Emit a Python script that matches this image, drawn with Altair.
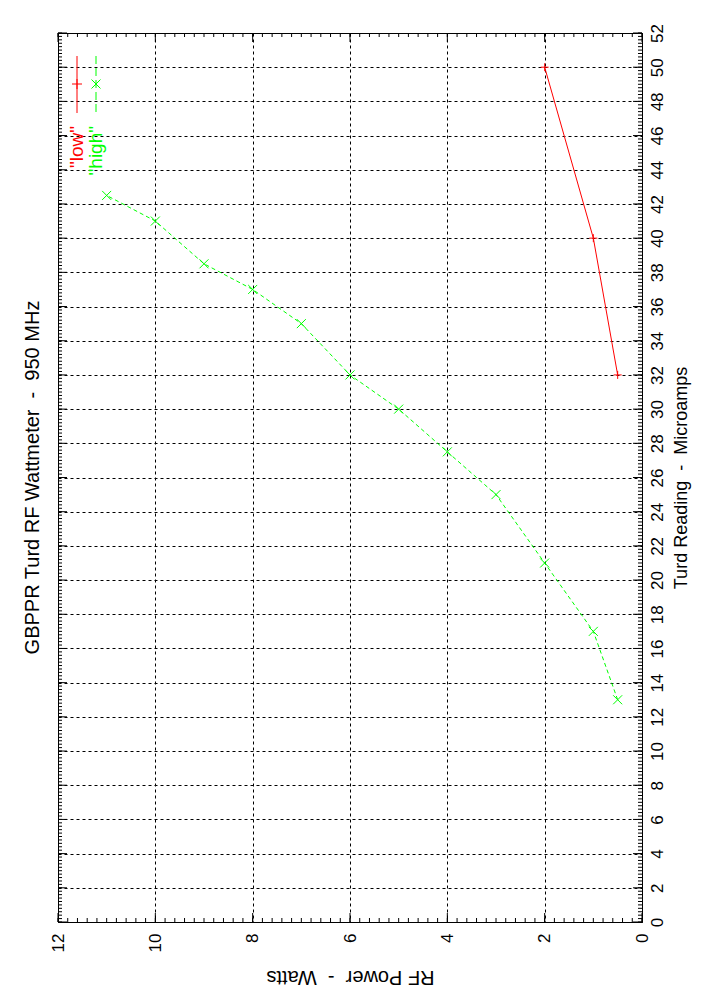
import altair as alt
import pandas as pd
import numpy as np

# ---- data ----
high_watts = [0.5, 1, 2, 3, 4, 5, 6, 7, 8, 9, 10, 11]
high_microamps = [13, 17, 21, 25, 27.5, 30, 32, 35, 37, 38.5, 41, 42.5]
low_watts = [0.5, 1, 2]
low_microamps = [32, 40, 50]

watt_ticks = [0, 2, 4, 6, 8, 10, 12]
microamp_ticks = list(range(0, 53, 2))
watt_minor = [round(v, 2) for v in np.arange(0, 12.001, 0.2)]
microamp_minor = [round(v, 2) for v in np.arange(0, 52.001, 0.2)]

W, H = 584, 889
MAJOR, MINOR = 9, 4
FONT = "Liberation Sans"
RED, GREEN = "#ff0000", "#00ff00"
NB = "\u00a0"

x_scale = alt.Scale(domain=[0, 12], reverse=True, nice=False, zero=False)
y_scale = alt.Scale(domain=[0, 52], nice=False, zero=False)

high_df = pd.DataFrame({"watts": high_watts, "ua": high_microamps, "i": range(len(high_watts))})
low_df = pd.DataFrame({"watts": low_watts, "ua": low_microamps, "i": range(len(low_watts))})
wt_major = pd.DataFrame({"v": watt_ticks})
wt_minor = pd.DataFrame({"v": watt_minor})
ua_major = pd.DataFrame({"v": microamp_ticks})
ua_minor = pd.DataFrame({"v": microamp_minor})

x_axis = alt.Axis(values=watt_ticks, orient="bottom", format="d",
                  labelAngle=270, labelAlign="right", labelBaseline="middle",
                  labelPadding=11, labelFontSize=17,
                  title=f"RF Power {NB}-{NB} Watts", titleAngle=180, titleFontSize=20,
                  titlePadding=25, titleBaseline="middle",
                  grid=True, gridColor="black", gridDash=[3, 3], gridOpacity=1,
                  ticks=False, domain=False)
y_axis = alt.Axis(values=microamp_ticks, orient="right", format="d",
                  labelAngle=270, labelAlign="center", labelBaseline="top",
                  labelPadding=7, labelFontSize=17,
                  title=f"Turd Reading {NB}-{NB} Microamps", titleAngle=270, titleFontSize=18,
                  titlePadding=16, titleBaseline="middle",
                  grid=True, gridColor="black", gridDash=[3, 3], gridOpacity=1,
                  ticks=False, domain=False)

def XE(field):
    return alt.X(field, scale=x_scale, axis=x_axis)

def YE(field):
    return alt.Y(field, scale=y_scale, axis=y_axis)

# grid + labelled axes
axes_layer = alt.Chart(wt_major).mark_point(opacity=0).encode(
    x=XE("v:Q"), y=YE("v:Q"),
)

def xticks(df, length):
    bottom = alt.Chart(df).mark_rule(color="black", strokeWidth=1).encode(
        x=XE("v:Q"), y=alt.value(H), y2=alt.value(H - length))
    top = alt.Chart(df).mark_rule(color="black", strokeWidth=1).encode(
        x=XE("v:Q"), y=alt.value(0), y2=alt.value(length))
    return [bottom, top]

def yticks(df, length):
    left = alt.Chart(df).mark_rule(color="black", strokeWidth=1).encode(
        y=YE("v:Q"), x=alt.value(0), x2=alt.value(length))
    right = alt.Chart(df).mark_rule(color="black", strokeWidth=1).encode(
        y=YE("v:Q"), x=alt.value(W), x2=alt.value(W - length))
    return [left, right]

tick_layers = (xticks(wt_minor, MINOR) + xticks(wt_major, MAJOR)
               + yticks(ua_minor, MINOR) + yticks(ua_major, MAJOR))

PLUS = "M-1,0L1,0M0,-1L0,1"
CROSS = "M-1,-1L1,1M-1,1L1,-1"

def series(df, color, dash, shape, size):
    base = alt.Chart(df).encode(x=XE("watts:Q"), y=YE("ua:Q"), order="i:Q")
    line_kw = dict(color=color, strokeWidth=1)
    if dash:
        line_kw["strokeDash"] = dash
    line = base.mark_line(**line_kw)
    pts = base.mark_point(shape=shape, size=size, filled=False, stroke=color,
                          strokeWidth=1, opacity=1)
    return [line, pts]

data_layers = (series(low_df, RED, None, PLUS, 64)
               + series(high_df, GREEN, [4, 3], CROSS, 81))

# legend (drawn rotated like the reference)
def legend_entry(label, color, dash, shape, size, xpos):
    d = pd.DataFrame({"label": [label]})
    rule_kw = dict(color=color, strokeWidth=1)
    if dash:
        rule_kw["strokeDash"] = dash
    r = alt.Chart(d).mark_rule(**rule_kw).encode(
        x=alt.value(xpos), y=alt.value(23), y2=alt.value(80))
    p = alt.Chart(d).mark_point(shape=shape, size=size, filled=False, stroke=color,
                                strokeWidth=1, opacity=1).encode(
        x=alt.value(xpos), y=alt.value(51))
    t = alt.Chart(d).mark_text(angle=270, align="right", baseline="middle",
                               font=FONT, fontSize=19, color=color).encode(
        x=alt.value(xpos), y=alt.value(93), text="label:N")
    return [r, p, t]

legend_layers = (legend_entry('"low"', RED, None, PLUS, 100, 19)
                 + legend_entry('"high"', GREEN, [8, 4], CROSS, 81, 38))

chart = alt.layer(axes_layer, *tick_layers, *data_layers, *legend_layers).properties(
    width=W, height=H,
    title=alt.TitleParams(f"GBPPR Turd RF Wattmeter {NB}-{NB} 950 MHz", orient="left",
                          angle=270, fontSize=20, font=FONT, fontWeight="normal",
                          color="black", offset=6),
    autosize=alt.AutoSizeParams(type="none"),
    padding={"left": 50, "top": 25, "right": 51, "bottom": 71},
).configure_view(stroke="black", strokeWidth=1).configure_axis(
    labelFont=FONT, titleFont=FONT, labelColor="black", titleColor="black",
    titleFontWeight="normal",
)

chart.save("out.html", embed_options={"renderer": "svg", "actions": False})
